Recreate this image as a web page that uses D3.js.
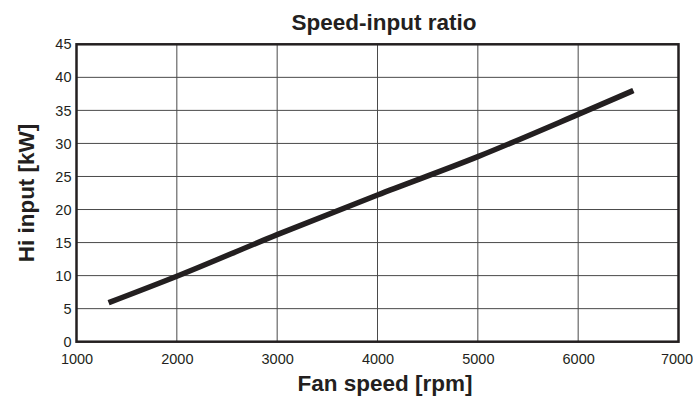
<!DOCTYPE html>
<html><head><meta charset="utf-8">
<script src="https://cdn.jsdelivr.net/npm/d3@7"></script>
<style>
html,body{margin:0;padding:0;background:#fff;}
svg{display:block;}
text{font-family:"Liberation Sans",Arial,Helvetica,sans-serif;}
</style></head>
<body>
<script>
const title = "Speed-input ratio";
const xLabel = "Fan speed [rpm]";
const yLabel = "Hi input [kW]";
const fanSpeed = [1320, 2000, 3000, 4000, 5000, 6000, 6550];
const hiInput  = [5.9, 9.9, 16.2, 22.2, 28.0, 34.4, 38.0];
const xTicks = [1000, 2000, 3000, 4000, 5000, 6000, 7000];
const yTicks = [0, 5, 10, 15, 20, 25, 30, 35, 40, 45];

const W = 693, H = 399;
const L = 76.5, R = 678.5, T = 44.3, B = 341.7;

const svg = d3.select("body").append("svg").attr("width", W).attr("height", H);
const x = d3.scaleLinear().domain([1000, 7000]).range([L, R]);
const y = d3.scaleLinear().domain([0, 45]).range([B, T]);

// grid
svg.append("g").selectAll("line").data(xTicks.slice(1, -1)).join("line")
  .attr("x1", d => x(d)).attr("x2", d => x(d)).attr("y1", T).attr("y2", B)
  .attr("stroke", "#4a4a4a").attr("stroke-width", 1);
svg.append("g").selectAll("line").data(yTicks.slice(1, -1)).join("line")
  .attr("y1", d => y(d)).attr("y2", d => y(d)).attr("x1", L).attr("x2", R)
  .attr("stroke", "#4a4a4a").attr("stroke-width", 1);

// axes labels via d3 axes
const xAxis = svg.append("g").attr("transform", `translate(0,${B})`)
  .call(d3.axisBottom(x).tickValues(xTicks).tickSize(0).tickPadding(12).tickFormat(d3.format("d")));
xAxis.select(".domain").remove();
xAxis.attr("font-size", null).attr("font-family", null);
xAxis.selectAll("text").style("font-size", "14.5px").attr("fill", "#231f20")
  .attr("dx", d => d === 7000 ? -2 : 0);

const yAxis = svg.append("g").attr("transform", `translate(${L},0)`)
  .call(d3.axisLeft(y).tickValues(yTicks).tickSize(0).tickPadding(5).tickFormat(d3.format("d")));
yAxis.select(".domain").remove();
yAxis.attr("font-size", null).attr("font-family", null);
yAxis.selectAll("text").style("font-size", "14.5px").attr("fill", "#231f20");

// frame
svg.append("rect").attr("x", L).attr("y", T).attr("width", R - L).attr("height", B - T)
  .attr("fill", "none").attr("stroke", "#231f20").attr("stroke-width", 2.5);

// data line
const pts = fanSpeed.map((v, i) => [v, hiInput[i]]);
svg.append("path").datum(pts)
  .attr("d", d3.line().curve(d3.curveMonotoneX).x(d => x(d[0])).y(d => y(d[1])))
  .attr("fill", "none").attr("stroke", "#231f20").attr("stroke-width", 5.5);

// titles
svg.append("text").attr("x", 384).attr("y", 30).attr("text-anchor", "middle")
  .attr("font-size", 22.5).attr("font-weight", "bold").attr("fill", "#231f20").text(title);
svg.append("text").attr("x", 385).attr("y", 391).attr("text-anchor", "middle")
  .attr("font-size", 22.5).attr("font-weight", "bold").attr("fill", "#231f20").text(xLabel);
svg.append("text").attr("transform", `translate(34,${(T + B) / 2}) rotate(-90)`)
  .attr("text-anchor", "middle")
  .attr("font-size", 22.5).attr("font-weight", "bold").attr("fill", "#231f20").text(yLabel);
</script>
</body></html>
